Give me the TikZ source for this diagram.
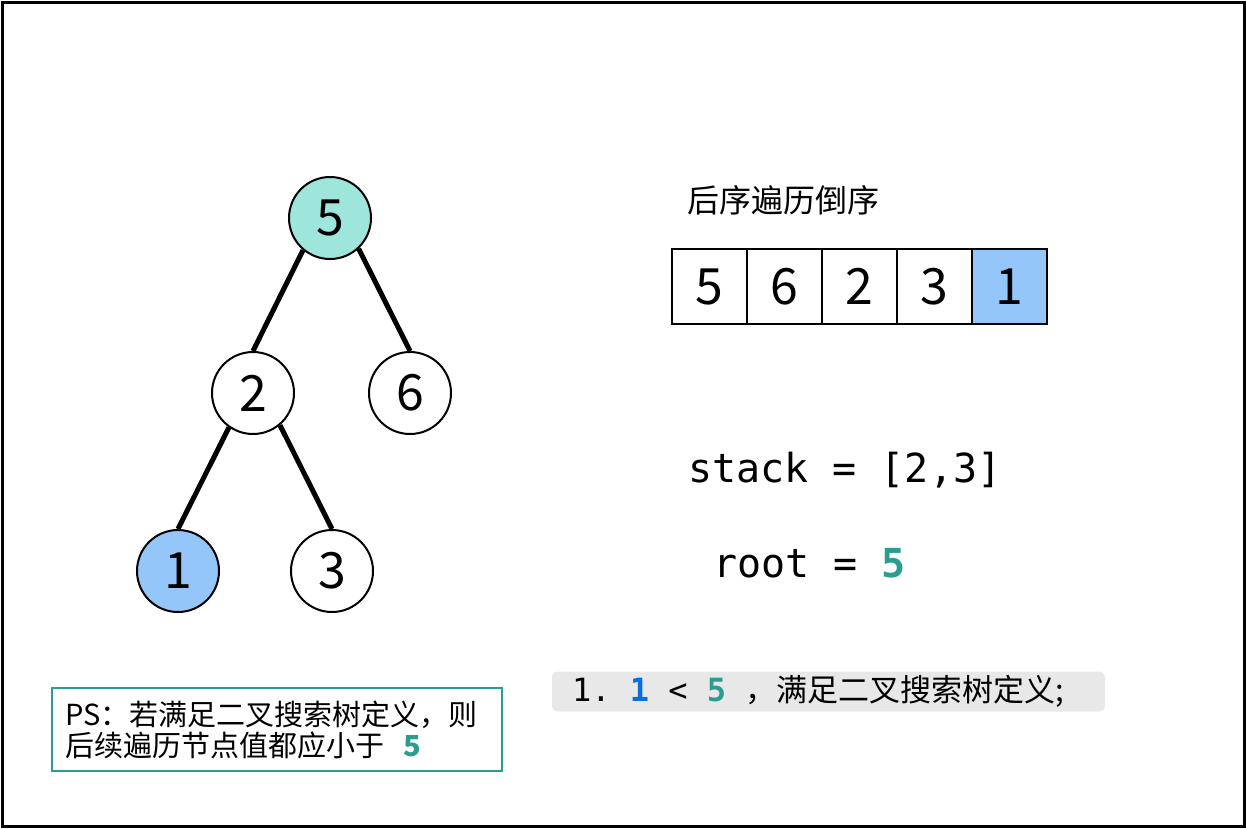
\documentclass[tikz,border=0pt]{standalone}
\usepackage{fontspec}
\setmainfont{Noto Sans CJK SC}
\setmonofont{DejaVu Sans Mono}
\usepackage{xcolor}
\usetikzlibrary{positioning}
\definecolor{teal}{HTML}{2A9D8F}
\definecolor{rootfill}{HTML}{9EE5DB}
\definecolor{hit}{HTML}{94C6FA}
\definecolor{hitblue}{HTML}{0A6EE1}
\definecolor{codebg}{HTML}{E8E8E8}
\newcommand{\gap}{\hspace{19.3pt}}

\begin{document}
\begin{tikzpicture}[
    x=1pt, y=-1pt,
    every node/.style={align=center},
    tnode/.style={draw, circle, line width=2pt, minimum size=82pt, inner sep=0pt,
                  fill=#1, font=\fontsize{50}{50}\selectfont},
    tnode/.default=white,
    edge/.style={line width=5pt},
    cell/.style={draw, line width=2pt, minimum size=75pt, inner sep=0pt,
                 font=\fontsize{50}{50}\selectfont},
    lbl/.style={font=\fontsize{32}{32}\selectfont, inner sep=0pt},
    mono/.style={font=\fontsize{40}{40}\selectfont\ttfamily, inner sep=0pt},
  ]
  \useasboundingbox (0,0) rectangle (1246,828);
  \draw[line width=3pt] (2,2) rectangle (1244,826);

  % tree
  \node[tnode=rootfill] (n5) at (330,218) {5};
  \node[tnode]          (n2) at (253,393) {2};
  \node[tnode]          (n6) at (410,393) {6};
  \node[tnode=hit]      (n1) at (178,571) {1};
  \node[tnode]          (n3) at (332,571) {3};

  \draw[edge] (n5.230) -- (n2.north);
  \draw[edge] (n5.-47) -- (n6.north);
  \draw[edge] (n2.235) -- (n1.north);
  \draw[edge] (n2.-50) -- (n3.north);

  % reversed post-order array
  \node[lbl, anchor=west] (title) at (687,200) {后序遍历倒序};
  \foreach \v [count=\i] in {5,6,2,3,1}
    \node[cell] (c\i) at ({672+75*(\i-1)+37.5},286.5) {\v};
  \node[cell, fill=hit] at (c5) {1};

  % state
  \node[mono, anchor=base west] (stk)  at (688,482) {stack = [2,3]};
  \node[mono, anchor=base west] (root) at (713,577) {root = {\bfseries\color{teal}5}};

  % step
  \node[fill=codebg, rounded corners=6pt, minimum width=553pt, minimum height=40pt,
        text width=533pt, inner xsep=10pt, inner ysep=0pt, align=left,
        font=\fontsize{31}{31}\selectfont]
        (step) at (828.5,691.5)
        {\hspace*{10pt}{\fontsize{32}{32}\selectfont\ttfamily 1.\gap{\bfseries\color{hitblue}1}\gap<\gap{\bfseries\color{teal}5}\gap}，满足二叉搜索树定义;};

  % note
  \node[draw=teal, line width=2pt, minimum width=450pt, minimum height=83pt,
        text width=424pt, inner xsep=13pt, align=left, font=\fontsize{29}{31}\selectfont]
        (note) at (277,729.5)
        {PS：若满足二叉搜索树定义，则\\后续遍历节点值都应小于~~{\bfseries\color{teal}5}};
\end{tikzpicture}
\end{document}
